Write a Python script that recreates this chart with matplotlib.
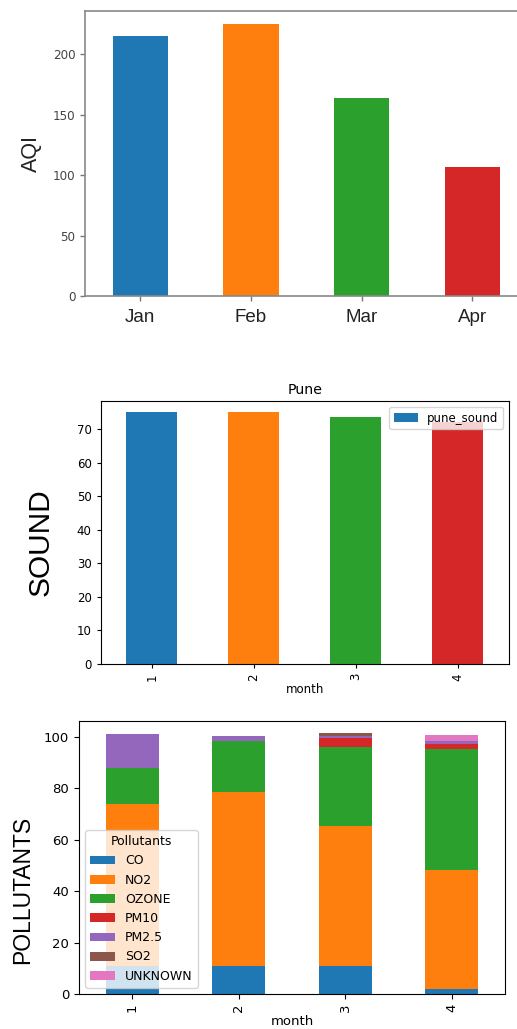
import matplotlib
matplotlib.use("Agg")
import matplotlib.pyplot as plt
from matplotlib import font_manager
import numpy as np

# ---------------- data ----------------
aqi_months = ["Jan", "Feb", "Mar", "Apr"]
aqi_values = [215, 225, 164, 107]

sound_months = ["1", "2", "3", "4"]
pune_sound = [75.0, 75.0, 73.5, 72.0]

poll_months = ["1", "2", "3", "4"]
pollutant_names = ["CO", "NO2", "OZONE", "PM10", "PM2.5", "SO2", "UNKNOWN"]
co = [10.8, 10.9, 11.0, 2.0]
no2 = [63.2, 67.5, 54.2, 46.0]
ozone = [14.0, 20.0, 30.8, 47.2]
pm10 = [0.0, 0.0, 3.4, 1.9]
pm25 = [13.2, 2.0, 0.8, 1.3]
so2 = [0.0, 0.0, 1.1, 0.0]
unknown = [0.0, 0.0, 0.0, 2.1]

colors = ["#1f77b4", "#ff7f0e", "#2ca02c", "#d62728", "#9467bd", "#8c564b", "#e377c2"]

W, H = 517, 1029
fig = plt.figure(figsize=(W / 100, H / 100), dpi=100)


def rect(l, r, t, b):
    return [l / W, 1 - b / H, (r - l) / W, (b - t) / H]


avail = {f.name for f in font_manager.fontManager.ttflist}
narrow = "Liberation Sans Narrow" if "Liberation Sans Narrow" in avail else "Liberation Sans"

# ---------------- panel 1: AQI ----------------
ax1 = fig.add_axes(rect(85, 527.5, 11, 296))
x1 = np.arange(len(aqi_months))
ax1.bar(x1, aqi_values, width=0.5, color=colors[:4])
ax1.set_xlim(-0.5, 3.5)
ax1.set_ylim(0, 236)
ax1.set_yticks([0, 50, 100, 150, 200])
ax1.set_xticks(x1)
ax1.set_xticklabels(aqi_months, fontsize=13.5, family="Liberation Sans", color="#222222")
for lab in ax1.get_yticklabels():
    lab.set_fontsize(9.5)
    lab.set_fontstretch("condensed")
ax1.tick_params(axis="both", colors="#777777", length=3.5, width=1.0)
ax1.tick_params(axis="x", labelcolor="#222222", pad=6)
ax1.tick_params(axis="y", labelcolor="#444444")
for s in ax1.spines.values():
    s.set_color("#888888")
    s.set_linewidth(1.2)
ax1.set_ylabel("AQI", fontsize=15.5, family="Liberation Sans", color="#222222", labelpad=8)

# ---------------- panel 2: SOUND ----------------
ax2 = fig.add_axes(rect(100.7, 509, 401, 664))
x2 = np.arange(len(sound_months))
ax2.bar(x2, pune_sound, width=0.5, color=colors[:4], label="pune_sound")
ax2.set_xlim(-0.5, 3.5)
ax2.set_ylim(0, 78.4)
ax2.set_xticks(x2)
ax2.set_xticklabels(sound_months, rotation=90)
ax2.tick_params(labelsize=8.5, length=3)
ax2.set_title("Pune", fontsize=10.2, pad=5)
ax2.set_xlabel("month", fontsize=8.5, labelpad=2)
ax2.legend(loc="upper right", fontsize=8.5)
ax2.set_ylabel("SOUND", fontsize=21.5, family=narrow)
ax2.yaxis.set_label_coords((55 - 100.7) / 408.3, (664 - 542) / 263)

# ---------------- panel 3: POLLUTANTS ----------------
ax3 = fig.add_axes(rect(79, 505, 721, 994))
x3 = np.arange(len(poll_months))
series = [co, no2, ozone, pm10, pm25, so2, unknown]
bottom = np.zeros(len(poll_months))
for name, vals, c in zip(pollutant_names, series, colors):
    ax3.bar(x3, vals, width=0.5, bottom=bottom, color=c, label=name)
    bottom = bottom + np.array(vals)
ax3.set_xlim(-0.5, 3.5)
ax3.set_ylim(0, 106.1)
ax3.set_xticks(x3)
ax3.set_xticklabels(poll_months, rotation=90)
ax3.set_yticks([0, 20, 40, 60, 80, 100])
ax3.tick_params(labelsize=9.5, length=3.5)
ax3.set_xlabel("month", fontsize=9.5, labelpad=2)
ax3.legend(title="Pollutants", loc="lower left", fontsize=9, title_fontsize=9)
ax3.set_ylabel("POLLUTANTS", fontsize=16.5, family=narrow)
ax3.yaxis.set_label_coords((34 - 79) / 426, (994 - 890) / 273)

fig.savefig("out.png", dpi=100)
